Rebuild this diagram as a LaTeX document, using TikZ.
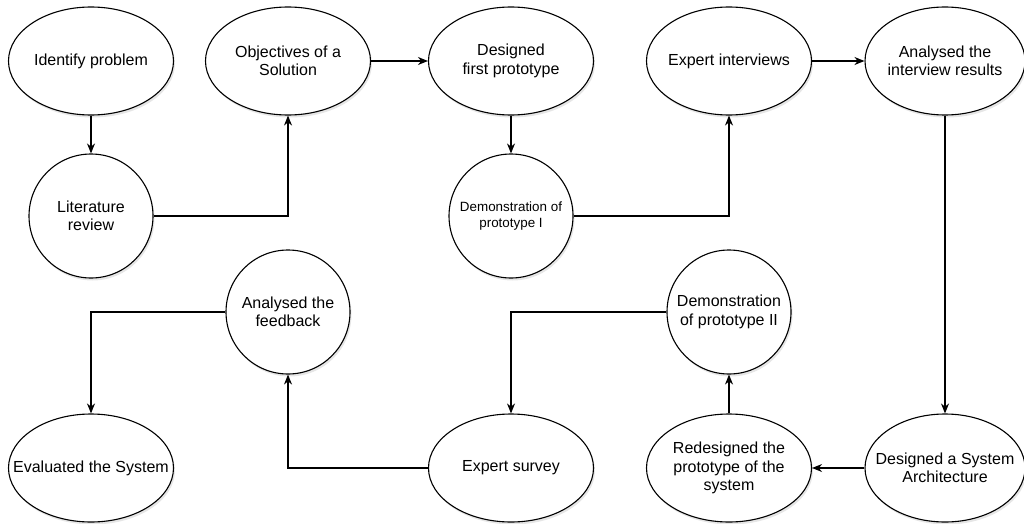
\documentclass[tikz,border=0pt]{standalone}
\usepackage{fontspec}
\setmainfont{Liberation Sans}
\usetikzlibrary{shapes.geometric,arrows.meta,shadows}
\tikzset{
  base/.style={draw=black, line width=1.1pt, fill=white, align=center, inner sep=-40pt,
    font=\fontsize{16}{18.5}\selectfont,
    drop shadow={opacity=0.2, shadow xshift=1.5pt, shadow yshift=-2.5pt}},
  oval/.style={base, ellipse, minimum width=165pt, minimum height=108pt},
  rnd/.style={base, circle, minimum size=124pt},
  conn/.style={line width=1.1pt, -{Stealth[length=10pt,width=8pt]}}
}
\begin{document}
\begin{tikzpicture}[x=1pt,y=-1pt]
\useasboundingbox (0,0) rectangle (1024,524);
\node[oval] (ip) at (91,61) {Identify problem};
\node[oval] (obj) at (288,61) {Objectives of a\\Solution};
\node[oval] (dfp) at (511,61) {Designed\\first prototype};
\node[oval] (ei) at (729,61) {Expert interviews};
\node[oval, minimum width=160pt] (air) at (945,61) {Analysed the\\interview results};
\node[rnd] (lr) at (91,216) {Literature\\review};
\node[rnd, font=\fontsize{13.4}{16}\selectfont] (d1) at (511,216) {Demonstration of\\prototype I};
\node[rnd] (af) at (288,312) {Analysed the\\feedback};
\node[rnd] (d2) at (729,312) {Demonstration\\of prototype II};
\node[oval] (ev) at (91,468) {Evaluated the System};
\node[oval] (es) at (511,468) {Expert survey};
\node[oval] (red) at (729,468) {Redesigned the\\prototype of the\\system};
\node[oval, minimum width=160pt] (dsa) at (945,468) {Designed a System\\Architecture};
\draw[conn] (ip) -- (lr);
\draw[conn] (lr.east) -| (obj.south);
\draw[conn] (obj) -- (dfp);
\draw[conn] (dfp) -- (d1);
\draw[conn] (d1.east) -| (ei.south);
\draw[conn] (ei) -- (air);
\draw[conn] (air) -- (dsa);
\draw[conn] (dsa) -- (red);
\draw[conn] (red) -- (d2);
\draw[conn] (d2.west) -| (es.north);
\draw[conn] (es.west) -| (af.south);
\draw[conn] (af.west) -| (ev.north);
\end{tikzpicture}
\end{document}
